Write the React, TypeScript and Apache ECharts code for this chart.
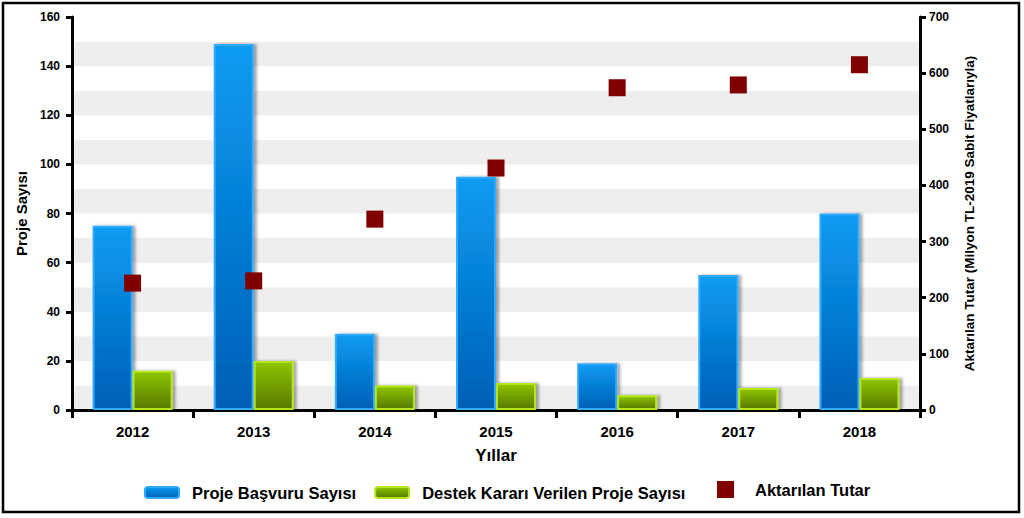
import React, { useEffect, useRef } from "react";
import * as echarts from "echarts";

const years = ["2012", "2013", "2014", "2015", "2016", "2017", "2018"];
const basvuru = [75, 149, 31, 95, 19, 55, 80];
const destek = [16, 20, 10, 11, 6, 9, 13];
const aktarilan = [226, 230, 340, 431, 574, 579, 615];

const FONT = "'Liberation Sans', Arial, sans-serif";

export default function App() {
  const ref = useRef<HTMLDivElement>(null);
  useEffect(() => {
    document.body.style.margin = "0";
    const chart = echarts.init(ref.current!, undefined, { renderer: "svg" });
    const axisLabel = { color: "#000", fontWeight: "bold", fontSize: 12, fontFamily: FONT };
    chart.setOption({
      animation: false,
      backgroundColor: "#fff",
      textStyle: { fontFamily: FONT },
      grid: { left: 72, right: 104, top: 17, bottom: 108, containLabel: false },
      graphic: [
        {
          type: "rect",
          shape: { x: 3, y: 3, width: 1016, height: 509 },
          style: { fill: "none", stroke: "#000", lineWidth: 2.5 },
          z: 100,
        },
      ],
      legend: [
        {
          data: ["Proje Başvuru Sayısı", "Destek Kararı Verilen Proje Sayısı"],
          left: 144,
          top: 484,
          padding: 0,
          itemWidth: 34,
          itemHeight: 11,
          itemGap: 18,
          textStyle: { color: "#000", fontWeight: "bold", fontSize: 16.5, fontFamily: FONT, padding: [0, 0, 0, 8] },
        },
        {
          data: ["Aktarılan Tutar"],
          left: 717,
          top: 481,
          padding: 0,
          itemWidth: 17,
          itemHeight: 17,
          textStyle: { color: "#000", fontWeight: "bold", fontSize: 16.5, fontFamily: FONT, padding: [0, 0, 0, 16] },
        },
      ],
      xAxis: {
        type: "category",
        data: years,
        boundaryGap: true,
        name: "Yıllar",
        nameLocation: "middle",
        nameGap: 37,
        nameTextStyle: { color: "#000", fontWeight: "bold", fontSize: 17, fontFamily: FONT },
        axisLine: { lineStyle: { color: "#000", width: 3 } },
        axisTick: { show: true, length: 8, lineStyle: { color: "#000", width: 3 } },
        axisLabel: { ...axisLabel, fontSize: 15, margin: 14 },
        splitLine: { show: false },
      },
      yAxis: [
        {
          type: "value",
          min: 0,
          max: 160,
          interval: 20,
          name: "Proje Sayısı",
          nameLocation: "middle",
          nameGap: 42,
          nameTextStyle: { color: "#000", fontWeight: "bold", fontSize: 15, fontFamily: FONT },
          axisLine: { show: true, lineStyle: { color: "#000", width: 3 } },
          axisTick: { show: true, length: 6, lineStyle: { color: "#000", width: 3 } },
          axisLabel: { ...axisLabel, margin: 12 },
          splitLine: { show: false },
          z: 5,
        },
        {
          type: "value",
          min: 0,
          max: 700,
          interval: 100,
          position: "right",
          name: "Aktarılan Tutar (Milyon TL-2019 Sabit Fiyatlarıyla)",
          nameLocation: "middle",
          nameGap: 42,
          nameRotate: 90,
          nameTextStyle: { color: "#000", fontWeight: "bold", fontSize: 13.5, fontFamily: FONT },
          axisLine: { show: true, lineStyle: { color: "#000", width: 3 } },
          axisTick: { show: true, length: 6, lineStyle: { color: "#000", width: 3 } },
          axisLabel: { ...axisLabel, margin: 9 },
          splitLine: { show: false },
          z: 5,
        },
        {
          type: "value",
          min: 0,
          max: 160,
          interval: 10,
          position: "left",
          axisLine: { show: false },
          axisTick: { show: false },
          axisLabel: { show: false },
          splitLine: { show: false },
          splitArea: { show: true, areaStyle: { color: ["#eeeeee", "#ffffff"] } },
          z: 0,
        },
      ],
      series: [
        {
          name: "Proje Başvuru Sayısı",
          type: "bar",
          data: basvuru,
          barWidth: 40,
          barGap: "0%",
          itemStyle: {
            color: new echarts.graphic.LinearGradient(0, 0, 0, 1, [
              { offset: 0, color: "#0a9cf2" },
              { offset: 1, color: "#005fb5" },
            ]),
            borderColor: "#30aaff",
            borderWidth: 2,
            shadowColor: "rgba(0,0,0,0.35)",
            shadowBlur: 3,
            shadowOffsetX: 3,
            shadowOffsetY: 0,
          },
        },
        {
          name: "Destek Kararı Verilen Proje Sayısı",
          type: "bar",
          data: destek,
          barWidth: 40,
          barGap: "0%",
          itemStyle: {
            color: new echarts.graphic.LinearGradient(0, 0, 0, 1, [
              { offset: 0, color: "#8fc400" },
              { offset: 1, color: "#557a00" },
            ]),
            borderColor: "#b5e61d",
            borderWidth: 2,
            shadowColor: "rgba(0,0,0,0.35)",
            shadowBlur: 3,
            shadowOffsetX: 3,
            shadowOffsetY: 0,
          },
        },
        {
          name: "Aktarılan Tutar",
          type: "scatter",
          yAxisIndex: 1,
          data: aktarilan,
          symbol: "rect",
          symbolSize: 17,
          itemStyle: { color: "#800000", opacity: 1 },
          z: 10,
        },
      ],
    });
    return () => chart.dispose();
  }, []);
  return <div ref={ref} style={{ width: 1024, height: 518 }} />;
}
